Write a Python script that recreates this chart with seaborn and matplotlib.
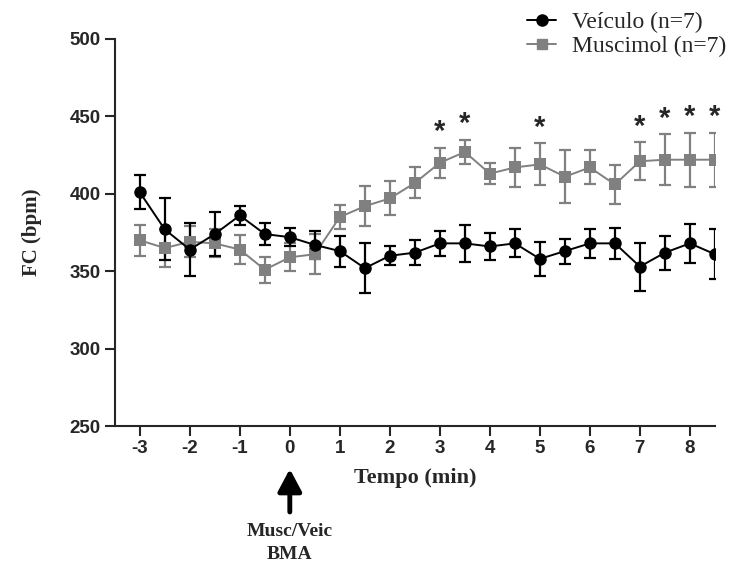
import numpy as np
import pandas as pd
import seaborn as sns
import matplotlib.pyplot as plt

# tempo (min), every 30 s
tempo = [-3, -2.5, -2, -1.5, -1, -0.5, 0, 0.5, 1, 1.5, 2, 2.5, 3, 3.5,
         4, 4.5, 5, 5.5, 6, 6.5, 7, 7.5, 8, 8.5]
veic_mean = [401, 377, 364, 374, 386, 374, 372, 367, 363, 352, 360, 362,
             368, 368, 366, 368, 358, 363, 368, 368, 353, 362, 368, 361]
veic_sem = [11, 20, 17, 14, 6, 7, 6, 9, 10, 16, 6, 8,
            8, 12, 9, 9, 11, 8, 9.5, 10, 15.5, 11, 12.5, 16]
musc_mean = [370, 365, 369, 368, 364, 351, 359, 361, 385, 392, 397, 407,
             420, 427, 413, 417, 419, 411, 417, 406, 421, 422, 422, 422]
musc_sem = [10, 12, 10, 9, 9.5, 8.5, 9, 13, 8, 13, 11, 10,
            9.7, 8, 7, 12.5, 13.5, 17, 11, 12.3, 12.2, 16.5, 17.5, 17.3]
signif = [3, 3.5, 5, 7, 7.5, 8, 8.5]

lab_veic = 'Veículo (n=7)'
lab_musc = 'Muscimol (n=7)'

df = pd.DataFrame({
    'tempo': tempo * 2,
    'FC': veic_mean + musc_mean,
    'sem': veic_sem + musc_sem,
    'grupo': [lab_veic] * len(tempo) + [lab_musc] * len(tempo),
})

sns.set_style('ticks')
plt.rcParams['axes.unicode_minus'] = False
fig = plt.figure(figsize=(7.31, 5.63), dpi=100)
ax = fig.add_axes([0.157, 0.243, 0.821, 0.688])

cores = {lab_veic: 'black', lab_musc: '#808080'}
marcas = {lab_veic: 'o', lab_musc: 's'}

# error bars first so that markers sit on top
for g, d in df.groupby('grupo', sort=False):
    ax.errorbar(d['tempo'], d['FC'], yerr=d['sem'], fmt='none',
                ecolor=cores[g], elinewidth=1.6, capsize=4.5, capthick=1.6,
                zorder=2 if g == lab_veic else 1)

sns.lineplot(data=df, x='tempo', y='FC', hue='grupo', style='grupo',
             palette=cores, markers=marcas, dashes=False, ax=ax,
             linewidth=1.4, markeredgewidth=0, legend=False)
for ln in ax.lines:
    if ln.get_marker() == 'o':
        ln.set_markersize(9)
        ln.set_zorder(4)
    elif ln.get_marker() == 's':
        ln.set_markersize(8)
        ln.set_zorder(3)

# asterisks above Muscimol error bars
for t in signif:
    i = tempo.index(t)
    ax.text(t, musc_mean[i] + musc_sem[i] + 1, '*', ha='center', va='bottom',
            fontsize=21, fontweight='bold', family='Liberation Sans')

ax.set_xlim(-3.5, 8.5)
ax.set_ylim(250, 500)
ax.set_xticks(range(-3, 9))
ax.set_yticks(range(250, 501, 50))
sns.despine(ax=ax)
for s in ['left', 'bottom']:
    ax.spines[s].set_linewidth(1.5)
ax.tick_params(direction='out', length=7, width=1.5, pad=3)
for lbl in ax.get_xticklabels() + ax.get_yticklabels():
    lbl.set_family('Liberation Sans')
    lbl.set_fontweight('bold')
    lbl.set_fontsize(13.5)

ax.set_xlabel('Tempo (min)', family='Liberation Serif', fontweight='bold',
              fontsize=16, labelpad=8)
ax.set_ylabel('FC (bpm)', family='Liberation Serif', fontweight='bold',
              fontsize=15, labelpad=20)

# injection marker
ax.annotate('', xy=(0, 1 - 469 / 563), xytext=(0, 1 - 512 / 563),
            xycoords=('data', 'figure fraction'), textcoords=('data', 'figure fraction'),
            arrowprops=dict(arrowstyle='-|>,head_length=0.75,head_width=0.4',
                            color='black', lw=3.5, mutation_scale=18,
                            shrinkA=0, shrinkB=0))
ax.annotate('Musc/Veic\nBMA', xy=(0, 0.0), xycoords=('data', 'figure fraction'),
            xytext=(0, 0.0), textcoords=('data', 'figure fraction'),
            ha='center', va='bottom', family='Liberation Serif', fontweight='bold',
            fontsize=14, linespacing=1.5)

h = [plt.Line2D([], [], color='black', marker='o', markersize=8, lw=1.4),
     plt.Line2D([], [], color='#808080', marker='s', markersize=7, lw=1.4)]
fig.legend(h, [lab_veic, lab_musc], loc='upper right', bbox_to_anchor=(1.01, 1.0),
           frameon=False, prop={'family': 'Liberation Serif', 'size': 17},
           handlelength=1.2, labelspacing=0.1, borderaxespad=0.1,
           handletextpad=0.7)

fig.savefig('out.png', dpi=100)
